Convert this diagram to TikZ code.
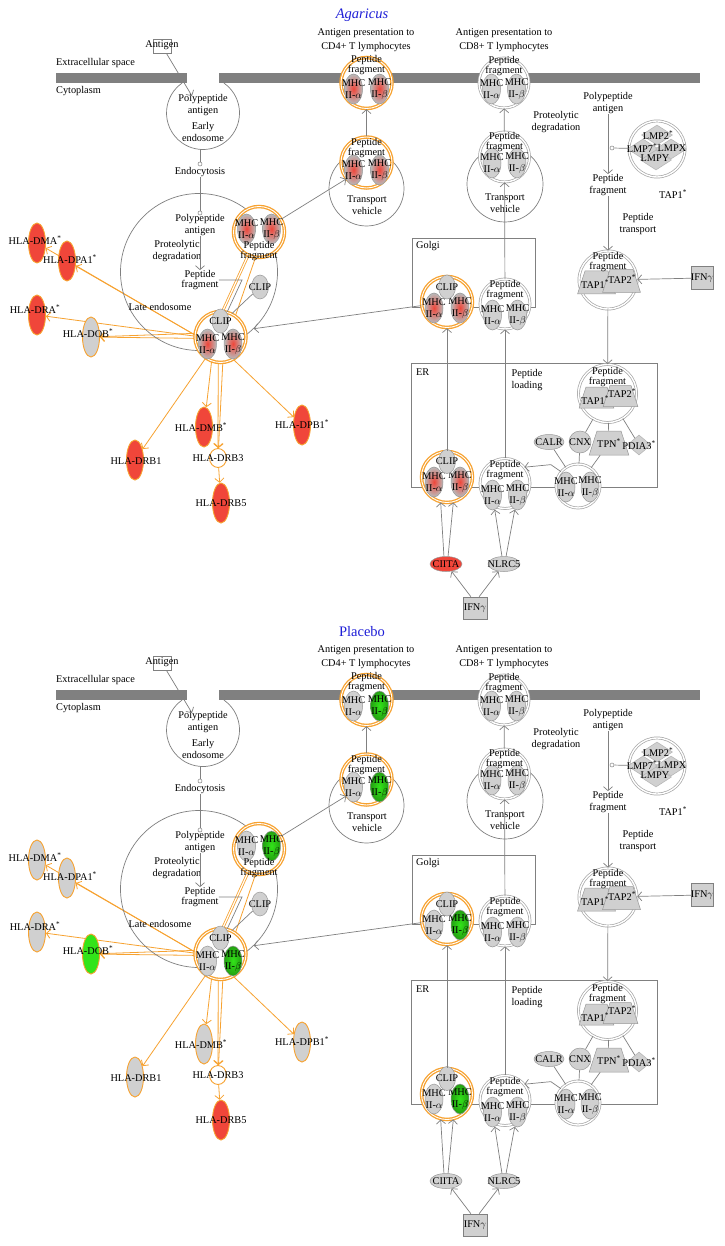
\documentclass[tikz,border=0pt]{standalone}
\usepackage{fontspec}
\setmainfont{Liberation Serif}
\usetikzlibrary{shapes.geometric,arrows.meta,backgrounds}

\definecolor{ipaorange}{RGB}{247,162,48}
\definecolor{ipagray}{RGB}{128,128,128}
\definecolor{ipalight}{RGB}{208,208,208}
\definecolor{ipared}{RGB}{240,70,58}
\definecolor{ipagreen}{RGB}{50,228,25}
\definecolor{ipablue}{RGB}{30,30,215}

\tikzset{
  txt/.style={align=center, inner sep=0pt, font=\fontsize{10.3}{12}\selectfont},
  tighttxt/.style={align=center, inner sep=0pt, font=\fontsize{10.3}{10}\selectfont},
  widetxt/.style={align=center, inner sep=0pt, font=\fontsize{10.3}{14}\selectfont},
  gline/.style={draw=ipagray, line width=0.7pt},
  garrow/.style={gline, -{Straight Barb[length=4pt,width=9pt]}},
  oline/.style={draw=ipaorange, line width=0.8pt},
  oarrow/.style={oline, -{Straight Barb[length=4pt,width=9pt]}},
  vesicle/.style={circle, draw=ipagray, line width=0.7pt, inner sep=1pt},
  oring/.style={circle, draw=ipaorange, line width=1.3pt, double=white, double distance=0.9pt, fill=white, inner sep=1pt, minimum size=51pt},
  gring/.style={circle, draw=ipagray!70, line width=0.7pt, double=white, double distance=1.4pt, fill=white, inner sep=1pt, minimum size=50pt},
  mhcell/.style={ellipse, draw=ipagray!80, line width=0.5pt, fill=ipalight, minimum width=18pt, minimum height=30pt, inner sep=1pt},
  clipell/.style={mhcell, minimum width=17pt, minimum height=24pt},
  gene/.style={ellipse, draw=ipaorange, line width=0.9pt, minimum width=17pt, minimum height=40pt, inner sep=1pt},
  tapbox/.style={trapezium, trapezium left angle=72, trapezium right angle=72, draw=ipagray!80, fill=ipalight, line width=0.5pt, minimum width=25pt, minimum height=23pt, inner sep=1pt},
  lmpbox/.style={diamond, draw=ipagray!60, fill=ipalight, line width=0.5pt, minimum width=31pt, minimum height=20pt, inner sep=1pt},
  cytobox/.style={rectangle, draw=ipagray, fill=ipalight, line width=0.5pt, minimum width=22pt, minimum height=23pt, inner sep=1pt},
  compart/.style={rectangle, draw=ipagray, line width=0.7pt, inner sep=1pt, anchor=north west},
  port/.style={circle, draw=ipagray, fill=white, line width=0.5pt, inner sep=0.5pt, minimum size=4pt},
  hlalpha/.style={}, hlbeta/.style={}, genefill/.style={}, dobfill/.style={}, ciitafill/.style={}
}

% one MHC chain: name, position, fill, greek letter
\newcommand{\mhcunit}[4]{%
  \node[mhcell, #3, label={[txt]center:MHC\\II-$#4$}] (#1) at (#2) {};%
}

% the whole pathway, drawn once per group
\newcommand{\mhcpanel}[1]{%
  \node[inner sep=0pt, text=ipablue, font=\fontsize{14.5}{16}\selectfont] (title) at (362,15) {#1};
  % membrane
  \fill[ipagray] (56,73) rectangle (187,83);
  \fill[ipagray] (219,73) rectangle (700,83);
  \node[txt, anchor=west] (extra) at (56,63) {Extracellular space};
  \node[txt, anchor=west] (cyto) at (56,91) {Cytoplasm};
  \node[widetxt] (cdfourtxt) at (366,40) {Antigen presentation to\\CD4+ T lymphocytes};
  \node[widetxt] (cdeighttxt) at (504,40) {Antigen presentation to\\CD8+ T lymphocytes};
  % early endosome
  \node[rectangle, draw=ipagray, line width=0.5pt, minimum width=18pt, minimum height=14pt, inner sep=1pt] (antigen) at (162,46) {};
  \node[txt] (antigentxt) at (162,45) {Antigen};
  \draw[gline] (203,113) ++(-55:36.5) arc[start angle=-55, end angle=235, radius=36.5];
  \coordinate (earlyin) at (192,96);
  \coordinate (earlyout) at (200,149);
  \node[txt] (ppearly) at (203,105) {Polypeptide\\antigen};
  \node[txt] (earlytxt) at (203,132) {Early\\endosome};
  \draw[garrow] (antigen) -- (earlyin);
  \node[port] (portin) at (200,164) {};
  \node[txt] (endocyt) at (200,172) {Endocytosis};
  \node[port] (portout) at (200,213) {};
  \draw[gline] (earlyout) -- (portin);
  \draw[gline] (endocyt) -- (portout);
  % late endosome
  \node[vesicle, minimum size=157pt] (lateendo) at (199,272) {};
  \node[txt] (pplate) at (200,225) {Polypeptide\\antigen};
  \node[txt] (proteo) at (177,251) {Proteolytic\\degradation};
  \node[tighttxt] (peplate) at (200,280) {Peptide\\fragment};
  \node[txt] (latetxt) at (160,307) {Late endosome};
  \draw[garrow] (pplate) -- (peplate);
  \coordinate (lejoin) at (242,280);
  \node[clipell, label={[txt]center:CLIP}] (clipfree) at (260,287) {};
  \node[oring] (topc) at (259,232) {};
  \mhcunit{topa}{246.5,229}{hlalpha}{\alpha}
  \mhcunit{topb}{271.5,229}{hlbeta}{\beta}
  \node[tighttxt] (toppep) at (259,251) {Peptide\\fragment};
  \node[oring] (lowc) at (220.5,337) {};
  \mhcunit{lowa}{207.5,344}{hlalpha}{\alpha}
  \mhcunit{lowb}{233,344}{hlbeta}{\beta}
  \node[clipell, label={[txt]center:CLIP}] (lowclip) at (220.5,321) {};
  \draw[gline] (peplate.east) -- (lejoin) -- (lowc.75);
  \draw[gline] (clipfree) -- (lowc.64);
  % genes
  \node[gene, genefill] (dma) at (37,243) {};
  \node[gene, genefill] (dpa) at (67,261) {};
  \node[gene, genefill] (dra) at (37,315) {};
  \node[gene, dobfill] (dob) at (91,337) {};
  \node[gene, genefill] (dmb) at (204,427) {};
  \node[gene, genefill] (dpb) at (302,425) {};
  \node[gene, genefill] (drbone) at (135,460) {};
  \node[gene, fill=white, minimum height=19pt] (drbthree) at (218,458) {};
  \node[gene, fill=ipared] (drbfive) at (221,503) {};
  \node[txt] (dmatxt) at (35,240) {HLA-DMA\textsuperscript{*}};
  \node[txt] (dpatxt) at (70,259) {HLA-DPA1\textsuperscript{*}};
  \node[txt] (dratxt) at (35,309) {HLA-DRA\textsuperscript{*}};
  \node[txt] (dobtxt) at (88,333) {HLA-DOB\textsuperscript{*}};
  \node[txt] (dmbtxt) at (201,427) {HLA-DMB\textsuperscript{*}};
  \node[txt] (dpbtxt) at (302,424) {HLA-DPB1\textsuperscript{*}};
  \node[txt] (drbonetxt) at (136,461) {HLA-DRB1};
  \node[txt] (drbthreetxt) at (218,458) {HLA-DRB3};
  \node[txt] (drbfivetxt) at (221,503) {HLA-DRB5};
  \begin{pgfonlayer}{background}
    \draw[oline, double=white, double distance=1.2pt] (topc.245) -- (lowc.85);
    \draw[oline] (topc.262) -- (lowc.55);
    \draw[oarrow] (lowc.175) -- (dma);
    \draw[oarrow] (lowc.175) -- (dpa);
    \draw[oarrow] (lowc.178) -- (dra);
    \draw[oarrow] (lowc.183) -- (dob);
    \draw[oarrow] (lowc.172) -- (dob);
    \draw[oarrow] (lowc.250) -- (dmb);
    \draw[oarrow] (lowc.235) -- (drbone);
    \draw[oarrow] (lowc.265) -- (drbthree);
    \draw[oarrow] (lowc.275) -- (drbthree);
    \draw[oarrow] (drbthree) -- (drbfive);
    \draw[oarrow] (lowc.300) -- (dpb);
  \end{pgfonlayer}
  % CD4 route
  \node[vesicle, minimum size=75pt] (vesfour) at (366.5,188.5) {};
  \node[txt] (vesfourtxt) at (367,205) {Transport\\vehicle};
  \node[oring] (cdfourt) at (366.5,162.5) {};
  \mhcunit{cdfourta}{353.5,170}{hlalpha}{\alpha}
  \mhcunit{cdfourtb}{379.5,170}{hlbeta}{\beta}
  \node[tighttxt] (cdfourtpep) at (366.5,148) {Peptide\\fragment};
  \node[oring] (cdfourm) at (366.5,83) {};
  \mhcunit{cdfourma}{353.5,89}{hlalpha}{\alpha}
  \mhcunit{cdfourmb}{379.5,89}{hlbeta}{\beta}
  \node[tighttxt] (cdfourmpep) at (366.5,65) {Peptide\\fragment};
  \draw[garrow] (topc.30) -- (cdfourt.219);
  \draw[garrow] (cdfourt) -- (cdfourm);
  % CD8 route
  \node[vesicle, minimum size=76pt] (veseight) at (505,184) {};
  \node[txt] (veseighttxt) at (505,203) {Transport\\vehicle};
  \node[gring] (cdeightt) at (504.5,157) {};
  \mhcunit{cdeightta}{492,163}{}{\alpha}
  \mhcunit{cdeighttb}{517,163}{}{\beta}
  \node[tighttxt] (cdeighttpep) at (504.5,142) {Peptide\\fragment};
  \node[gring] (cdeightm) at (504,83) {};
  \mhcunit{cdeightma}{491.5,89}{}{\alpha}
  \mhcunit{cdeightmb}{516.5,89}{}{\beta}
  \node[tighttxt] (cdeightmpep) at (504,66.5) {Peptide\\fragment};
  \draw[garrow] (cdeightt) -- (cdeightm);
  \node[txt] (proteocd) at (556,122) {Proteolytic\\degradation};
  % proteasome and TAP
  \node[txt] (pprot) at (608,103) {Polypeptide\\antigen};
  \node[txt] (peprot) at (608,185) {Peptide\\fragment};
  \draw[garrow] (pprot) -- (peprot);
  \node[gring, minimum size=56pt] (proteasome) at (657,149) {};
  \node[lmpbox] (lmptwo) at (657,135) {};
  \node[lmpbox] (lmpseven) at (643,149) {};
  \node[lmpbox] (lmpx) at (671,149) {};
  \node[lmpbox] (lmpy) at (656,160) {};
  \node[txt] (lmptwotxt) at (658,135) {LMP2\textsuperscript{*}};
  \node[txt] (lmpseventxt) at (642,148) {LMP7\textsuperscript{*}};
  \node[txt] (lmpxtxt) at (672,148) {LMPX};
  \node[txt] (lmpytxt) at (655,158) {LMPY};
  \node[port] (portlmp) at (612,148) {};
  \draw[gline] (portlmp) -- (proteasome);
  \node[txt] (taponetxt) at (673,194) {TAP1\textsuperscript{*}};
  \node[txt] (peptrans) at (638,224) {Peptide\\transport};
  \node[gring, minimum size=58pt] (tapring) at (608,280) {};
  \node[tapbox] (tapa) at (596.5,282.5) {};
  \node[tapbox] (tapb) at (621.5,281) {};
  \node[txt] (tapatxt) at (595,284) {TAP1\textsuperscript{*}};
  \node[txt] (tapbtxt) at (622,279) {TAP2\textsuperscript{*}};
  \node[tighttxt] (tapringpep) at (608,262) {Peptide\\fragment};
  \node[cytobox, label={[txt]center:IFN$\gamma$}] (ifnone) at (702,278) {};
  \draw[garrow] (ifnone) -- (tapring);
  \draw[garrow] (peprot) -- (tapring);
  % Golgi and ER
  \node[compart, minimum width=123pt, minimum height=69pt] (golgibox) at (412,238) {};
  \node[txt, anchor=west] (golgitxt) at (416,246) {Golgi};
  \node[compart, minimum width=246pt, minimum height=124pt] (erbox) at (411,363) {};
  \node[txt, anchor=west] (ertxt) at (416,372) {ER};
  \node[txt] (peploadtxt) at (527,380) {Peptide\\loading};
  \node[oring] (golgio) at (447,302) {};
  \mhcunit{golgioa}{434,308}{hlalpha}{\alpha}
  \mhcunit{golgiob}{460,308}{hlbeta}{\beta}
  \node[clipell, label={[txt]center:CLIP}] (golgiclip) at (447,287) {};
  \node[gring] (golgig) at (505,304) {};
  \mhcunit{golgiga}{492.5,315}{}{\alpha}
  \mhcunit{golgigb}{517.5,315}{}{\beta}
  \node[tighttxt] (golgigpep) at (505,290) {Peptide\\fragment};
  \node[oring] (ero) at (447,477) {};
  \mhcunit{eroa}{434,482}{hlalpha}{\alpha}
  \mhcunit{erob}{460,482}{hlbeta}{\beta}
  \node[clipell, label={[txt]center:CLIP}] (eroclip) at (447,461.5) {};
  \node[gring] (ergray) at (505,483.5) {};
  \mhcunit{ergraya}{492.5,495}{}{\alpha}
  \mhcunit{ergrayb}{517.5,495}{}{\beta}
  \node[tighttxt] (ergraypep) at (505,470.5) {Peptide\\fragment};
  \node[gring, minimum size=58pt] (ertap) at (607.5,393.5) {};
  \node[tapbox, minimum height=21pt] (ertapa) at (596.5,397.5) {};
  \node[tapbox, minimum height=21pt] (ertapb) at (620.5,396) {};
  \node[txt] (ertapatxt) at (595,400) {TAP1\textsuperscript{*}};
  \node[txt] (ertapbtxt) at (622,393) {TAP2\textsuperscript{*}};
  \node[tighttxt] (ertappep) at (607.5,377.5) {Peptide\\fragment};
  \node[ellipse, draw=ipagray!80, fill=ipalight, line width=0.5pt, minimum width=30pt, minimum height=15pt, inner sep=1pt, label={[txt]center:CALR}] (calr) at (549,442) {};
  \node[circle, draw=ipagray!80, fill=ipalight, line width=0.5pt, minimum size=22pt, inner sep=1pt, label={[txt]center:CNX}] (cnx) at (580,442) {};
  \node[tapbox, minimum width=24pt, minimum height=24pt, label={[txt]center:TPN\textsuperscript{*}}] (tpn) at (609,443) {};
  \node[lmpbox, minimum width=24pt, minimum height=20pt, label={[txt]center:PDIA3\textsuperscript{*}}] (pdia) at (639,445) {};
  \node[gring, minimum size=44pt] (erfree) at (578,486) {};
  \mhcunit{erfreea}{566,487}{}{\alpha}
  \mhcunit{erfreeb}{590,487}{}{\beta}
  \draw[gline] (ertap) -- (cnx);
  \draw[gline] (ertap) -- (tpn);
  \draw[gline] (ertap) -- (pdia);
  \draw[gline] (calr) -- (erfree);
  \draw[gline] (cnx) -- (erfree);
  \draw[gline] (tpn) -- (erfree);
  \draw[garrow] (tapring) -- (ertap);
  \draw[garrow] (erfree.140) -- ++(-10,-7) -- (ergray.40);
  \draw[garrow] (ero) -- (golgio);
  \draw[garrow] (ergray) -- (golgig);
  \draw[garrow] (golgig) -- (cdeightt);
  \draw[garrow] (golgio.188) -- (lateendo.-46);
  % transcription factors
  \node[ellipse, draw=ipagray!80, ciitafill, line width=0.5pt, minimum width=32pt, minimum height=15pt, inner sep=1pt, label={[txt]center:CIITA}] (ciita) at (446,564) {};
  \node[ellipse, draw=ipagray!80, fill=ipalight, line width=0.5pt, minimum width=32pt, minimum height=15pt, inner sep=1pt, label={[txt]center:NLRC5}] (nlrc) at (504,564) {};
  \node[cytobox, minimum width=24pt, minimum height=22pt, label={[txt]center:IFN$\gamma$}] (ifntwo) at (475,608) {};
  \draw[garrow] (ifntwo.110) -- (ciita);
  \draw[garrow] (ifntwo.70) -- (nlrc);
  \draw[garrow] (ciita.105) -- (ero.256);
  \draw[garrow] (ciita.75) -- (ero.284);
  \draw[garrow] (nlrc.105) -- (ergraya);
  \draw[garrow] (nlrc.75) -- (ergrayb);
}

\begin{document}
\begin{tikzpicture}[x=1pt, y=-1pt]
\useasboundingbox (0,0) rectangle (724,1246);
\begin{pgfonlayer}{background}
  \fill[white] (0,0) rectangle (724,1246);
\end{pgfonlayer}
\begin{scope}[name prefix=a-,
    hlalpha/.style={inner color=ipared, outer color=ipagray!55},
    hlbeta/.style={inner color=ipared, outer color=ipagray!55},
    genefill/.style={fill=ipared}, dobfill/.style={fill=ipalight},
    ciitafill/.style={fill=ipared}]
  \mhcpanel{\textit{Agaricus}}
\end{scope}
\begin{scope}[shift={(0,617)}, name prefix=p-,
    hlalpha/.style={fill=ipalight},
    hlbeta/.style={inner color=ipagreen, outer color=ipagreen!70!black},
    genefill/.style={fill=ipalight}, dobfill/.style={fill=ipagreen},
    ciitafill/.style={fill=ipalight}]
  \mhcpanel{Placebo}
\end{scope}
\end{tikzpicture}
\end{document}
